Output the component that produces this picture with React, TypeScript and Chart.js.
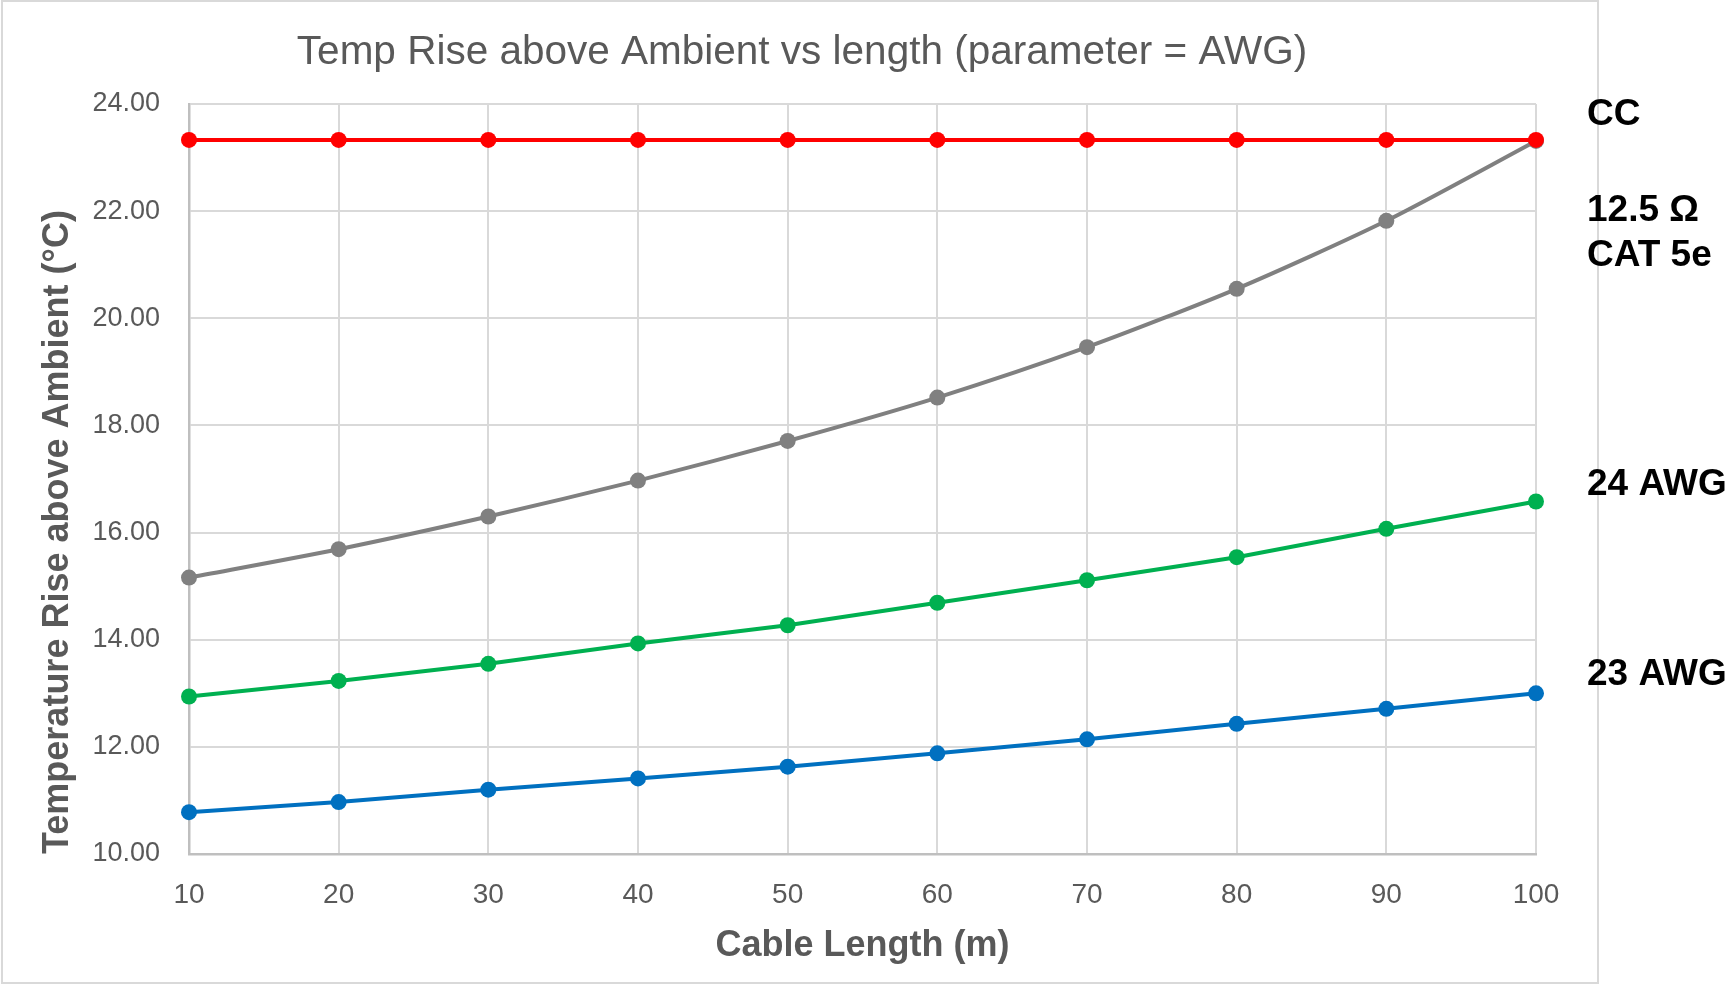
import React, { useEffect, useRef } from 'react';
import { Chart, registerables } from 'chart.js';

Chart.register(...registerables);

// ---- data ----
const lengths = [10, 20, 30, 40, 50, 60, 70, 80, 90, 100];
const ccValues = [23.33, 23.33, 23.33, 23.33, 23.33, 23.33, 23.33, 23.33, 23.33, 23.33];
const cat5eValues = [15.16, 15.69, 16.3, 16.97, 17.71, 18.52, 19.46, 20.55, 21.82, 23.31];
const awg24Values = [12.94, 13.23, 13.55, 13.93, 14.27, 14.69, 15.11, 15.54, 16.07, 16.58];
const awg23Values = [10.78, 10.97, 11.2, 11.41, 11.63, 11.88, 12.14, 12.43, 12.71, 13.0];

const yMin = 10;
const yMax = 24;
const yStep = 2;
const xMin = 10;
const xMax = 100;
const xStep = 10;

const seriesNames = ['CC', '12.5 Ω CAT 5e', '24 AWG', '23 AWG'];
const annotationTexts = ['CC', '12.5 Ω', 'CAT 5e', '24 AWG', '23 AWG'];
const annotationValues = [23.8, 22.01, 21.16, 16.89, 13.35];

const titleText = 'Temp Rise above Ambient vs length (parameter = AWG)';
const xTitle = 'Cable Length (m)';
const yTitle = 'Temperature Rise above Ambient (°C)';

const FONT = "'Liberation Sans', Arial, sans-serif";

const toPoints = (vals: number[]) => lengths.map((x, i) => ({ x, y: vals[i] }));

const framePlugin = {
  id: 'frame',
  beforeDraw(chart: any) {
    const ctx = chart.ctx;
    ctx.save();
    ctx.fillStyle = '#ffffff';
    ctx.fillRect(0, 0, chart.width, chart.height);
    ctx.strokeStyle = '#d9d9d9';
    ctx.lineWidth = 2;
    ctx.strokeRect(2, 1, 1596, 982);
    // chart title
    ctx.fillStyle = '#595959';
    ctx.font = `40.5px ${FONT}`;
    ctx.textAlign = 'center';
    ctx.textBaseline = 'middle';
    ctx.fillText(titleText, 802, 53);
    ctx.restore();
  },
};

const annotationPlugin = {
  id: 'sideLabels',
  afterDraw(chart: any) {
    const ctx = chart.ctx;
    const yScale = chart.scales.y;
    ctx.save();
    ctx.fillStyle = '#000000';
    ctx.font = `bold 37px ${FONT}`;
    ctx.textAlign = 'left';
    ctx.textBaseline = 'middle';
    annotationTexts.forEach((t, i) => {
      ctx.fillText(t, 1587, yScale.getPixelForValue(annotationValues[i]));
    });
    ctx.restore();
  },
};

export default function App() {
  const canvasRef = useRef<HTMLCanvasElement | null>(null);

  useEffect(() => {
    if (!canvasRef.current) return;
    const mk = (label: string, vals: number[], color: string, tension = 0) => ({
      label,
      data: toPoints(vals),
      borderColor: color,
      backgroundColor: color,
      pointBackgroundColor: color,
      pointBorderColor: color,
      pointBorderWidth: 0,
      pointRadius: 8,
      borderWidth: 4,
      tension,
      clip: false as any,
    });
    const chart = new Chart(canvasRef.current, {
      type: 'line',
      data: {
        datasets: [
          mk(seriesNames[0], ccValues, '#ff0000'),
          mk(seriesNames[1], cat5eValues, '#808080', 0.25),
          mk(seriesNames[2], awg24Values, '#00b050'),
          mk(seriesNames[3], awg23Values, '#0070c0'),
        ],
      },
      options: {
        responsive: false,
        animation: false,
        layout: { padding: { left: 0, right: 189, top: 104, bottom: 0 } },
        plugins: {
          legend: { display: false },
          tooltip: { enabled: false },
          title: { display: false },
        },
        scales: {
          x: {
            type: 'linear',
            min: xMin,
            max: xMax,
            afterFit: (s: any) => {
              s.height = 133;
            },
            ticks: {
              stepSize: xStep,
              color: '#595959',
              font: { family: FONT, size: 28 },
              padding: 24,
              maxRotation: 0,
            },
            grid: { color: '#d9d9d9', lineWidth: 2, drawTicks: false },
            border: { color: '#bfbfbf', width: 2.5 },
            title: {
              display: true,
              text: xTitle,
              color: '#595959',
              font: { family: FONT, size: 36, weight: 'bold' },
              padding: { top: 0, bottom: 19 },
            },
          },
          y: {
            type: 'linear',
            min: yMin,
            max: yMax,
            afterFit: (s: any) => {
              s.width = 189;
            },
            ticks: {
              stepSize: yStep,
              color: '#595959',
              font: { family: FONT, size: 27 },
              padding: 29,
              callback: (v: any) => Number(v).toFixed(2),
            },
            grid: { color: '#d9d9d9', lineWidth: 2, drawTicks: false },
            border: { color: '#bfbfbf', width: 2.5 },
            title: {
              display: true,
              text: yTitle,
              align: 'start',
              color: '#595959',
              font: { family: FONT, size: 36, weight: 'bold' },
              padding: { top: 36, bottom: 0 },
            },
          },
        },
      },
      plugins: [framePlugin, annotationPlugin],
    } as any);
    return () => chart.destroy();
  }, []);

  return (
    <div style={{ position: 'absolute', left: 0, top: 0, width: 1725, height: 987 }}>
      <canvas ref={canvasRef} width={1725} height={987} style={{ width: 1725, height: 987, display: 'block' }} />
    </div>
  );
}
